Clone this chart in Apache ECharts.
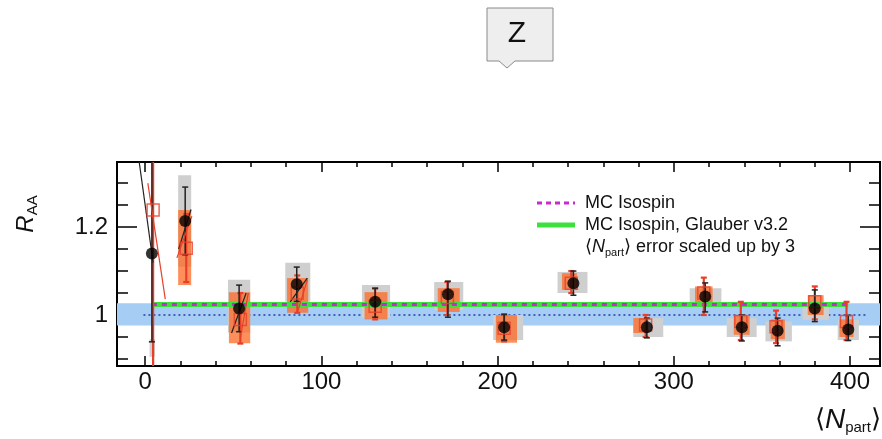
<!DOCTYPE html>
<html>
<head>
<meta charset="utf-8">
<script src="https://cdn.jsdelivr.net/npm/echarts@6.0.0/dist/echarts.min.js"></script>
<style>
  html, body { margin: 0; padding: 0; background: #fff; }
  #chart { width: 882px; height: 439px; }
</style>
</head>
<body>
<div id="chart"></div>
<script>
// axis ranges and ticks
const X_MIN = -16, X_MAX = 417;
const Y_MIN = 0.884, Y_MAX = 1.348;
const xMajorTicks = [0, 100, 200, 300, 400];
const xMinorTicks = [20, 40, 60, 80, 120, 140, 160, 180, 220, 240, 260, 280, 320, 340, 360, 380];
const yMajorTicks = [1, 1.2];
const yMinorTicks = [0.9, 0.95, 1.05, 1.1, 1.15, 1.25, 1.3];

// black points: <Npart>, R_AA, stat error ends
const npart = [3.8, 22.7, 53.3, 86, 130.5, 171.8, 203.7, 243, 284.7, 317.8, 338.6, 358.9, 380, 399];
const raa = [1.140, 1.214, 1.015, 1.070, 1.030, 1.047, 0.972, 1.072, 0.972, 1.042, 0.972, 0.964, 1.015, 0.967];
const raaLo = [0.939, 1.137, 0.962, 1.031, 0.995, 0.995, 0.943, 1.045, 0.948, 1.007, 0.941, 0.930, 0.985, 0.942];
const raaHi = [1.400, 1.291, 1.068, 1.109, 1.061, 1.077, 1.002, 1.100, 0.993, 1.073, 1.000, 0.993, 1.057, 0.999];
// grey syst boxes [npart lo, npart hi, raa lo, raa hi]
const raaSyst = [
  [2.5, 5.5, 0.905, 0.945], [18.7, 26.1, 1.11, 1.318], [47, 59.6, 0.96, 1.08], [79.5, 93.7, 1.03, 1.119],
  [123, 139, 0.993, 1.068], [164, 180.5, 1.011, 1.075], [197.5, 214.5, 0.943, 1.0], [234, 251, 1.05, 1.098],
  [277, 294, 0.95, 0.993], [309, 327, 1.023, 1.061], [330, 347, 0.95, 0.993], [352, 367, 0.94, 0.985],
  [373, 388, 0.989, 1.027], [393, 405, 0.943, 0.989]
];

// red points (second result)
const npartAlt = [4.5, 23.3, 54, 86.3, 130.5, 171.5, 203.7, 241.8, 284, 317, 338, 358, 380, 398];
const raaAlt = [1.239, 1.152, 0.99, 1.05, 1.02, 1.04, 0.97, 1.072, 0.977, 1.05, 0.985, 0.973, 1.03, 0.985];
const raaAltLo = [0.80, 1.075, 0.935, 1.005, 0.99, 1.0, 0.94, 1.05, 0.95, 1.0, 0.943, 0.936, 0.99, 0.943];
const raaAltHi = [1.40, 1.23, 1.05, 1.09, 1.06, 1.075, 1.0, 1.10, 1.0, 1.085, 1.03, 1.01, 1.065, 1.03];
const raaAltSyst = [
  [18.7, 26.1, 1.068, 1.239], [47.5, 59.6, 0.936, 1.052], [80.5, 92.5, 1.005, 1.084],
  [124.5, 137.5, 0.99, 1.052], [166, 178.5, 1.007, 1.061], [199, 211, 0.937, 1.0], [236.5, 245, 1.057, 1.095],
  [277, 285.5, 0.959, 0.993], [312, 322, 1.02, 1.065], [334, 343, 0.955, 1.0], [355, 363, 0.945, 0.99],
  [376, 385, 1.0, 1.045], [394, 402, 0.95, 0.99]
];

// <Npart> error lines (scaled up by 3): [npart1, raa1, npart2, raa2]
const npartErr = [[-3.4, 1.348, 4.5, 1.119], [19, 1.15, 26, 1.24], [49, 0.959, 57.3, 1.05], [82.3, 1.03, 92, 1.084]];
const npartErrAlt = [[1.5, 1.30, 11.4, 1.036], [18, 1.13, 26.5, 1.225], [54, 0.948, 58.5, 1.05], [86.3, 1.005, 92, 1.08]];

// MC isospin expectations and unity band
const mcNpart = [3.8, 399];
const mcIsospin = [1.024, 1.024];
const mcGlauber = [1.024, 1.024];
const unityBand = [0.976, 1.027];
const unityLine = [-1, 410];

const FONT = 'Liberation Sans, Arial, sans-serif';
const RED = '#e6402a';

function xAx(position, ticks, len, withLabels) {
  return {
    type: 'value', min: X_MIN, max: X_MAX, position,
    axisLine: { show: true, onZero: false, lineStyle: { color: '#000', width: 2 } },
    axisTick: { show: true, inside: true, length: len, customValues: ticks, lineStyle: { color: '#000', width: 1.5 } },
    axisLabel: withLabels
      ? { show: true, customValues: ticks, margin: 4, fontSize: 24, color: '#111', fontFamily: FONT }
      : { show: false },
    splitLine: { show: false }
  };
}

function yAx(position, ticks, len, withLabels) {
  return {
    type: 'value', min: Y_MIN, max: Y_MAX, position,
    axisLine: { show: true, onZero: false, lineStyle: { color: '#000', width: 2 } },
    axisTick: { show: true, inside: true, length: len, customValues: ticks, lineStyle: { color: '#000', width: 1.5 } },
    axisLabel: withLabels
      ? { show: true, customValues: ticks, margin: 9, fontSize: 24, color: '#111', fontFamily: FONT }
      : { show: false },
    splitLine: { show: false }
  };
}

function boxSeries(boxes, fill, z) {
  return {
    type: 'custom', z, silent: true,
    data: boxes,
    renderItem: (params, api) => {
      const cs = params.coordSys;
      const a = api.coord([api.value(0), api.value(3)]);
      const b = api.coord([api.value(1), api.value(2)]);
      const top = Math.max(a[1], cs.y);
      const bottom = Math.min(b[1], cs.y + cs.height);
      return {
        type: 'rect',
        shape: { x: a[0], y: top, width: b[0] - a[0], height: bottom - top },
        style: { fill }
      };
    }
  };
}

function errSeries(xs, lo, hi, color, width, z) {
  return {
    type: 'custom', z, silent: true,
    data: xs.map((x, i) => [x, lo[i], hi[i]]),
    renderItem: (params, api) => {
      const cs = params.coordSys;
      const p1 = api.coord([api.value(0), api.value(2)]);
      const p2 = api.coord([api.value(0), api.value(1)]);
      const y1 = Math.max(p1[1], cs.y), y2 = Math.min(p2[1], cs.y + cs.height);
      const st = { stroke: color, lineWidth: width };
      const children = [{ type: 'line', shape: { x1: p1[0], y1, x2: p1[0], y2 }, style: st }];
      if (p1[1] > cs.y) children.push({ type: 'line', shape: { x1: p1[0] - 3, y1, x2: p1[0] + 3, y2: y1 }, style: st });
      if (p2[1] < cs.y + cs.height) children.push({ type: 'line', shape: { x1: p1[0] - 3, y1: y2, x2: p1[0] + 3, y2 }, style: st });
      return { type: 'group', children };
    }
  };
}

function segSeries(segs, color, width, z) {
  return {
    type: 'custom', z, silent: true,
    data: segs,
    renderItem: (params, api) => {
      const a = api.coord([api.value(0), api.value(1)]);
      const b = api.coord([api.value(2), api.value(3)]);
      return { type: 'line', shape: { x1: a[0], y1: a[1], x2: b[0], y2: b[1] }, style: { stroke: color, lineWidth: width } };
    }
  };
}

const chart = echarts.init(document.getElementById('chart'), null, { renderer: 'canvas' });

const option = {
  backgroundColor: '#fff',
  animation: false,
  grid: { left: 117, top: 162, right: 2, bottom: 73, outerBoundsMode: 'none', containLabel: false },
  xAxis: [
    xAx('bottom', xMajorTicks, 10, true),
    xAx('bottom', xMinorTicks, 5, false),
    xAx('top', xMajorTicks, 10, false),
    xAx('top', xMinorTicks, 5, false)
  ],
  yAxis: [
    yAx('left', yMajorTicks, 20, true),
    yAx('left', yMinorTicks, 11, false),
    yAx('right', yMajorTicks, 20, false),
    yAx('right', yMinorTicks, 11, false)
  ],
  series: [
    boxSeries([[X_MIN, X_MAX, unityBand[0], unityBand[1]]], '#a6cef4', 1),
    {
      type: 'line', z: 2, silent: true, symbol: 'none',
      data: unityLine.map((x) => [x, 1]),
      lineStyle: { color: '#2a3aa8', width: 1.5, type: [2, 3] }
    },
    boxSeries(raaSyst, '#cfcfcf', 3),
    boxSeries(raaAltSyst, 'rgba(255,105,35,0.75)', 4),
    {
      type: 'line', z: 5, silent: true, symbol: 'none',
      data: mcNpart.map((x, i) => [x, mcGlauber[i]]),
      lineStyle: { color: '#3ee03e', width: 5 }
    },
    {
      type: 'line', z: 6, silent: true, symbol: 'none',
      data: mcNpart.map((x, i) => [x, mcIsospin[i]]),
      lineStyle: { color: '#c82ad0', width: 3, type: [5, 5] }
    },
    errSeries(npartAlt, raaAltLo, raaAltHi, RED, 2.2, 7),
    errSeries(npart, raaLo, raaHi, '#222', 1.5, 8),
    segSeries(npartErrAlt, RED, 1.2, 9),
    segSeries(npartErr, '#222', 1.2, 9),
    {
      type: 'scatter', z: 10, silent: true, symbol: 'rect', symbolSize: 12,
      data: npartAlt.map((x, i) => [x, raaAlt[i]]),
      itemStyle: { color: 'rgba(0,0,0,0)', borderColor: RED, borderWidth: 1.5 }
    },
    {
      type: 'scatter', z: 11, silent: true, symbol: 'circle', symbolSize: 12,
      data: npart.map((x, i) => [x, raa[i]]),
      itemStyle: { color: '#000' }
    }
  ],
  graphic: [
    // Z callout at the top
    {
      type: 'polygon', z: 20,
      shape: { points: [[487, 8], [553, 8], [553, 61], [515, 61], [507, 68], [499, 61], [487, 61]] },
      style: { fill: '#eeeeee', stroke: '#8a8a8a', lineWidth: 1 }
    },
    {
      type: 'text', x: 517, y: 34, z: 21,
      style: { text: 'Z', fontSize: 30, fontFamily: FONT, fill: '#111', align: 'center', verticalAlign: 'middle' }
    },
    // legend
    { type: 'line', z: 20, shape: { x1: 537, y1: 203, x2: 575, y2: 203 }, style: { stroke: '#c82ad0', lineWidth: 3, lineDash: [5, 4] } },
    { type: 'line', z: 20, shape: { x1: 537, y1: 225, x2: 575, y2: 225 }, style: { stroke: '#3ee03e', lineWidth: 5 } },
    {
      type: 'text', x: 585, y: 203, z: 20,
      style: { text: 'MC Isospin', fontSize: 18, fontFamily: FONT, fill: '#111', verticalAlign: 'middle' }
    },
    {
      type: 'text', x: 585, y: 225, z: 20,
      style: { text: 'MC Isospin, Glauber v3.2', fontSize: 18, fontFamily: FONT, fill: '#111', verticalAlign: 'middle' }
    },
    {
      type: 'text', x: 585, y: 247, z: 20,
      style: {
        text: '{a|⟨}{n|N}{s|part}{a|⟩ error scaled up by 3}',
        verticalAlign: 'middle', fill: '#111',
        rich: {
          a: { fontSize: 18, fontFamily: FONT, lineHeight: 22 },
          n: { fontSize: 18, fontFamily: FONT, fontStyle: 'italic', lineHeight: 22 },
          s: { fontSize: 11, fontFamily: FONT, lineHeight: 11, verticalAlign: 'bottom' }
        }
      }
    },
    // axis titles
    {
      type: 'text', x: 26, y: 214, z: 20, rotation: Math.PI / 2,
      style: {
        text: '{r|R}{s|AA}', align: 'center', verticalAlign: 'middle', fill: '#111',
        rich: {
          r: { fontSize: 24, fontFamily: FONT, fontStyle: 'italic', lineHeight: 28 },
          s: { fontSize: 15, fontFamily: FONT, lineHeight: 15, verticalAlign: 'bottom' }
        }
      }
    },
    {
      type: 'text', x: 881, y: 420, z: 20,
      style: {
        text: '{a|⟨}{n|N}{s|part}{a|⟩}', align: 'right', verticalAlign: 'middle', fill: '#111',
        rich: {
          a: { fontSize: 26, fontFamily: FONT, lineHeight: 30 },
          n: { fontSize: 28, fontFamily: FONT, fontStyle: 'italic', lineHeight: 30 },
          s: { fontSize: 15, fontFamily: FONT, lineHeight: 15, verticalAlign: 'bottom' }
        }
      }
    }
  ]
};

chart.setOption(option);
</script>
</body>
</html>
